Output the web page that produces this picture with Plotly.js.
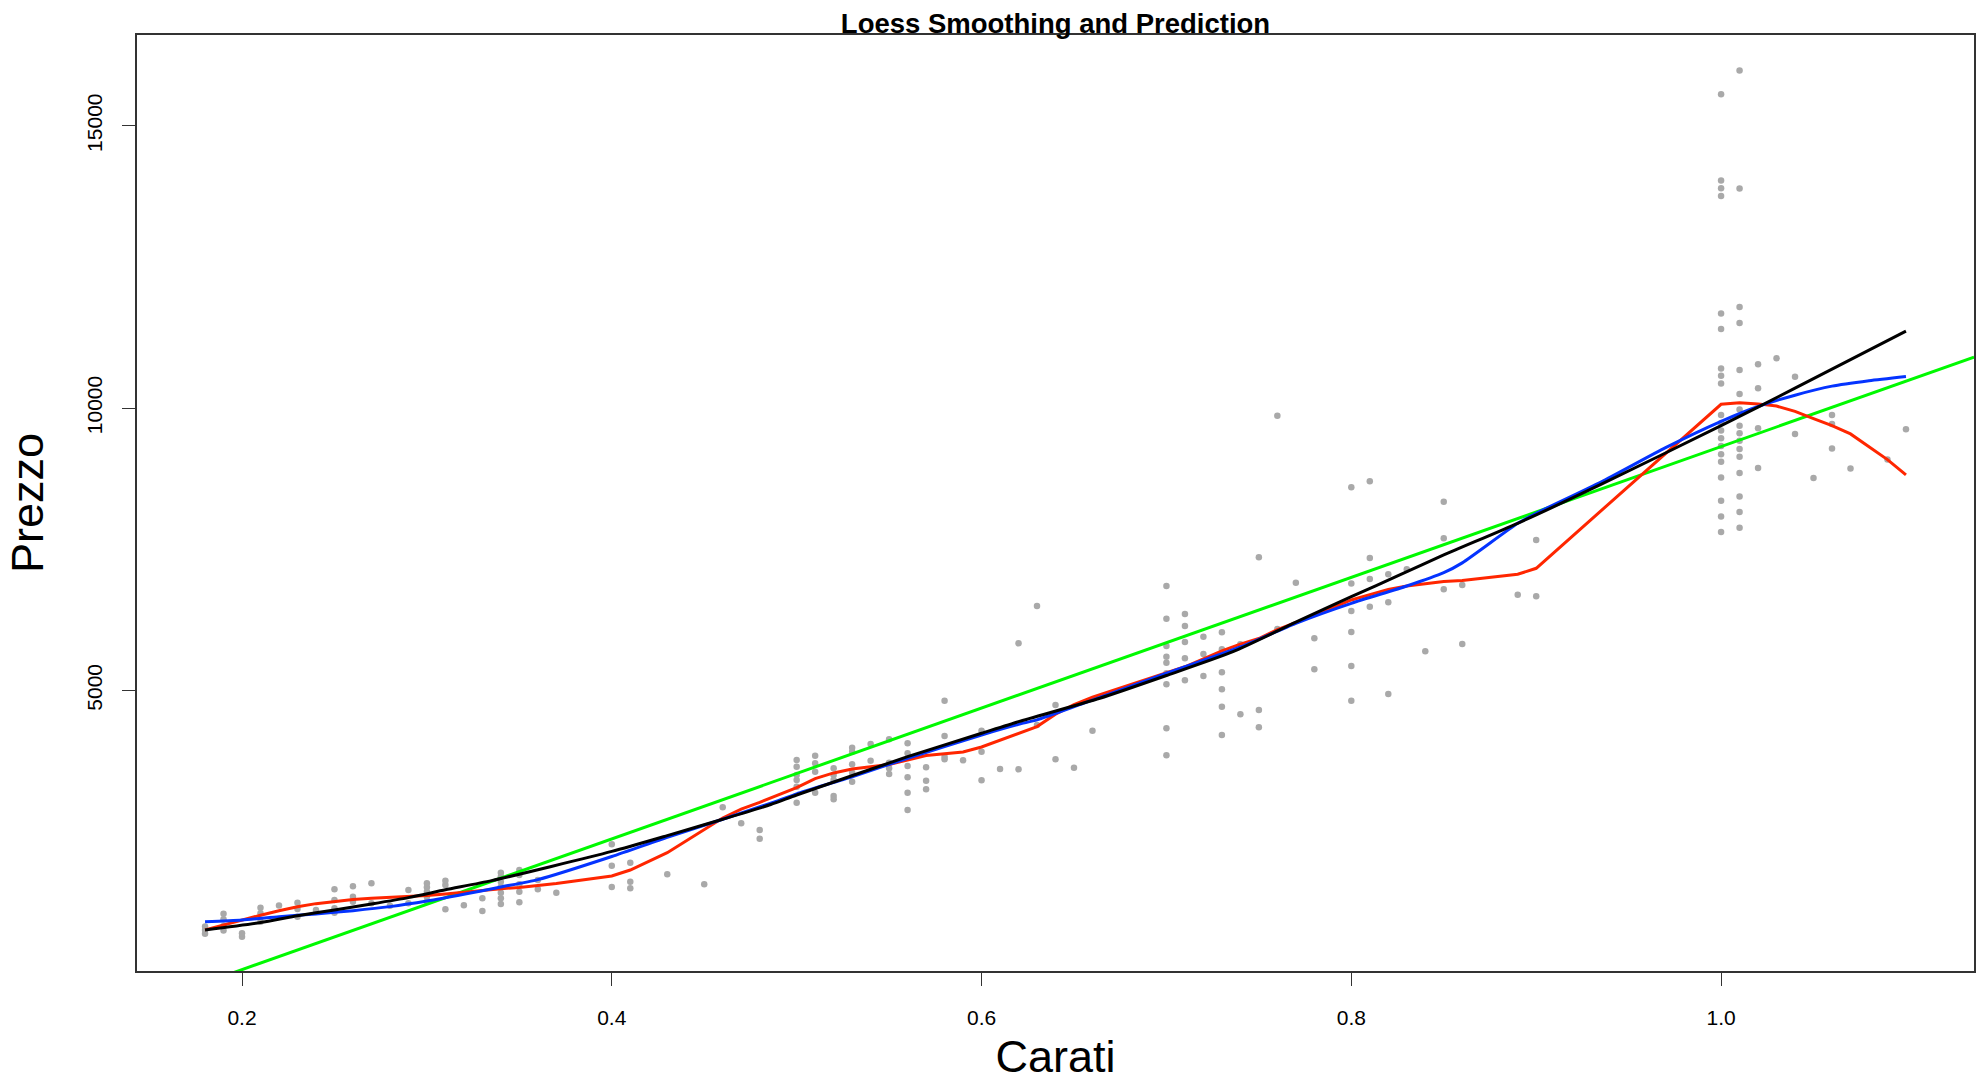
<!DOCTYPE html>
<html>
<head>
<meta charset="utf-8">
<script src="https://cdn.plot.ly/plotly-3.0.1.min.js"></script>
<style>
  html, body { margin: 0; padding: 0; background: #ffffff; }
  #chart { width: 1979px; height: 1082px; }
</style>
</head>
<body>
<div id="chart"></div>
<script>
// ---- scatter data: carat and price, one entry per diamond ----
const caratCols = [0.18,0.19,0.20,0.21,0.22,0.23,0.24,0.25,0.26,0.27,0.28,0.29,0.30,0.31,0.32,0.33,0.34,0.35,0.36,0.37,
  0.40,0.41,0.43,0.45,0.46,0.47,0.48,0.50,0.51,0.52,0.53,0.54,0.55,0.56,0.57,0.58,0.59,0.60,0.61,0.62,0.63,0.64,0.65,0.66,
  0.70,0.71,0.72,0.73,0.74,0.75,0.76,0.77,0.78,0.80,0.81,0.82,0.83,0.84,0.85,0.86,0.89,0.90,
  1.00,1.01,1.02,1.03,1.04,1.05,1.06,1.07,1.09,1.10];
const priceCols = [
  [690,760,820],
  [750,830,950,1045],
  [640,700],
  [905,1054,1150],
  [1190],
  [995,1130,1242],
  [1113],
  [1065,1143,1290,1479],
  [1260,1348,1532],
  [1231,1585],
  [1189],
  [1231,1467],
  [1260,1348,1437,1515,1585],
  [1125,1555,1632],
  [1196],
  [1095,1320],
  [1219,1320,1419,1525,1614,1702,1773],
  [1249,1437,1568,1733,1821],
  [1479,1644],
  [1419],
  [1520,1897,2276],
  [1497,1614,1950],
  [1747],
  [1568],
  [2932],
  [2648],
  [2375,2530],
  [3013,3296,3415,3503,3650,3769],
  [3190,3562,3711,3845],
  [3072,3131,3415,3503,3622],
  [3385,3544,3693,3916,3987],
  [3757,4052],
  [3521,3622,3721,4136],
  [2884,3190,3463,3663,3888,4065],
  [3250,3403,3640],
  [3782,3828,4194,4819],
  [3764],
  [3410,3916,4288],
  [3610],
  [3604,5836],
  [4389,6497],
  [3781,4743],
  [3633],
  [4288],
  [3852,4330,5110,5305,5492,5599,5788,6272,6851],
  [5181,5570,5859,6142,6355],
  [5257,5646,5953],
  [4212,4713,5021,5322,5730,6031],
  [4578,5818],
  [4348,4655,7359],
  [6089,9867],
  [6909],
  [5375,5924],
  [4819,5434,6036,6408,6894,8599],
  [6484,6975,7347,8705],
  [4938,6562,7058],
  [7146],
  [5694],
  [6792,7695,8344],
  [5824,6868],
  [6697],
  [6668,7665],
  [7805,8083,8361,8772,9050,9183,9328,9468,9606,9739,9879,10435,10575,10701,11404,11675,13756,13896,14034,15559],
  [7880,8159,8437,8854,9139,9279,9424,9557,9690,9975,10253,10676,11510,11790,13889,15982],
  [8942,9645,10354,10777],
  [10885],
  [9544,10556],
  [8765],
  [9284,9721,9879],
  [8930],
  [9089],
  [9626]
];

// ---- red loess (small span) ----
const redX = [0.18,0.19,0.20,0.21,0.22,0.23,0.24,0.25,0.26,0.27,0.28,0.29,0.30,0.31,0.32,0.33,0.34,0.35,0.36,0.37,
  0.40,0.41,0.43,0.45,0.46,0.47,0.48,0.50,0.51,0.52,0.53,0.54,0.55,0.56,0.57,0.58,0.59,0.60,0.61,0.62,0.63,0.64,0.65,0.66,
  0.70,0.71,0.72,0.73,0.74,0.75,0.76,0.77,0.78,0.80,0.81,0.82,0.83,0.84,0.85,0.86,0.89,0.90,
  1.00,1.01,1.02,1.03,1.04,1.05,1.06,1.07,1.09,1.10];
const redY = [760,850,930,1020,1100,1170,1225,1265,1300,1320,1335,1350,1370,1395,1430,1460,1490,1510,1540,1580,
  1715,1821,2127,2530,2740,2900,3020,3280,3440,3540,3610,3650,3690,3770,3850,3880,3910,4000,4120,4230,4360,4580,4750,4880,
  5305,5420,5560,5700,5820,5920,6080,6200,6330,6603,6700,6790,6850,6890,6930,6950,7058,7164,
  10069,10094,10076,10037,9943,9815,9690,9544,9089,8817];

// ---- blue loess (larger span) ----
const blueX = [0.18,0.20,0.22,0.24,0.26,0.28,0.30,0.32,0.34,0.36,0.40,0.43,0.46,0.49,0.50,0.53,0.56,0.58,0.60,0.62,0.63,0.655,
  0.70,0.74,0.77,0.80,0.83,0.85,0.86,0.89,0.90,0.935,0.97,1.00,1.02,1.04,1.06,1.08,1.10];
const blueY = [905,936,994,1042,1101,1172,1270,1390,1520,1650,2060,2400,2720,3050,3170,3473,3799,4005,4212,4400,4480,4773,
  5305,5770,6190,6544,6850,7086,7260,7961,8138,8690,9300,9766,10030,10230,10390,10485,10560];

// ---- black fit (smooth prediction) ----
const blackX = [0.18,0.21,0.23,0.25,0.27,0.29,0.31,0.335,0.40,0.43,0.46,0.486,0.50,0.56,0.60,0.62,0.664,0.70,0.736,0.772,
  0.80,0.8265,0.85,0.89,0.935,1.00,1.04,1.10];
const blackY = [759,890,1010,1113,1219,1331,1470,1632,2150,2430,2720,2980,3149,3828,4242,4448,4862,5265,5687,6240,
  6661,7050,7400,7961,8650,9690,10354,11365];

// ---- green linear regression: intercept, slope ----
const linCoef = [-2260, 11580];

// axis ranges and ticks
const xRange = [0.1432, 1.1368];
const yRange = [32, 16609];
const xTicks = [0.2, 0.4, 0.6, 0.8, 1.0];
const xTickText = ['0.2', '0.4', '0.6', '0.8', '1.0'];
const yTicks = [5000, 10000, 15000];
const yTickText = ['5000', '10000', '15000'];

// flatten scatter
const ptX = [], ptY = [];
caratCols.forEach((c, i) => priceCols[i].forEach(p => { ptX.push(c); ptY.push(p); }));

const linX = xRange.slice();
const linY = linX.map(x => linCoef[0] + linCoef[1] * x);

const traces = [
  { x: ptX, y: ptY, type: 'scatter', mode: 'markers',
    marker: { color: '#a9a9a9', size: 6.5, line: { width: 0 } }, hoverinfo: 'x+y', showlegend: false },
  { x: linX, y: linY, type: 'scatter', mode: 'lines',
    line: { color: '#00f900', width: 3 }, showlegend: false },
  { x: redX, y: redY, type: 'scatter', mode: 'lines',
    line: { color: '#ff2600', width: 3 }, showlegend: false },
  { x: blueX, y: blueY, type: 'scatter', mode: 'lines',
    line: { color: '#0433ff', width: 3, shape: 'spline', smoothing: 0.6 }, showlegend: false },
  { x: blackX, y: blackY, type: 'scatter', mode: 'lines',
    line: { color: '#000000', width: 3, shape: 'spline', smoothing: 0.6 }, showlegend: false }
];

const layout = {
  width: 1979, height: 1082,
  margin: { l: 137, r: 5, t: 35, b: 111, pad: 0 },
  paper_bgcolor: '#ffffff', plot_bgcolor: '#ffffff',
  font: { family: 'Liberation Sans, Arial, Helvetica, sans-serif', color: '#000000' },
  title: {
    text: '<b>Loess Smoothing and Prediction</b>',
    font: { size: 27.5, color: '#000000', family: 'Liberation Sans, Arial, sans-serif' },
    xref: 'paper', x: 0.5, xanchor: 'center',
    yref: 'container', y: 1 - 23 / 1082, yanchor: 'middle'
  },
  xaxis: {
    range: xRange, autorange: false,
    tickmode: 'array', tickvals: xTicks, ticktext: xTickText,
    ticks: 'outside', ticklen: 13, tickwidth: 1, tickcolor: '#333333',
    ticklabelstandoff: 14,
    tickfont: { size: 21, color: '#000000' },
    showline: true, linecolor: '#333333', linewidth: 2, mirror: true,
    showgrid: false, zeroline: false, automargin: false,
    title: { text: 'Carati', font: { size: 45, color: '#000000' }, standoff: 20 }
  },
  yaxis: {
    range: yRange, autorange: false,
    tickmode: 'array', tickvals: yTicks, ticktext: yTickText,
    tickangle: -90,
    ticks: 'outside', ticklen: 13, tickwidth: 1, tickcolor: '#333333',
    ticklabelstandoff: 12,
    tickfont: { size: 21, color: '#000000' },
    showline: true, linecolor: '#333333', linewidth: 2, mirror: true,
    showgrid: false, zeroline: false, automargin: false,
    title: { text: 'Prezzo', font: { size: 45, color: '#000000' }, standoff: 25 }
  }
};

Plotly.newPlot('chart', traces, layout, { displayModeBar: false, staticPlot: true });
</script>
</body>
</html>
